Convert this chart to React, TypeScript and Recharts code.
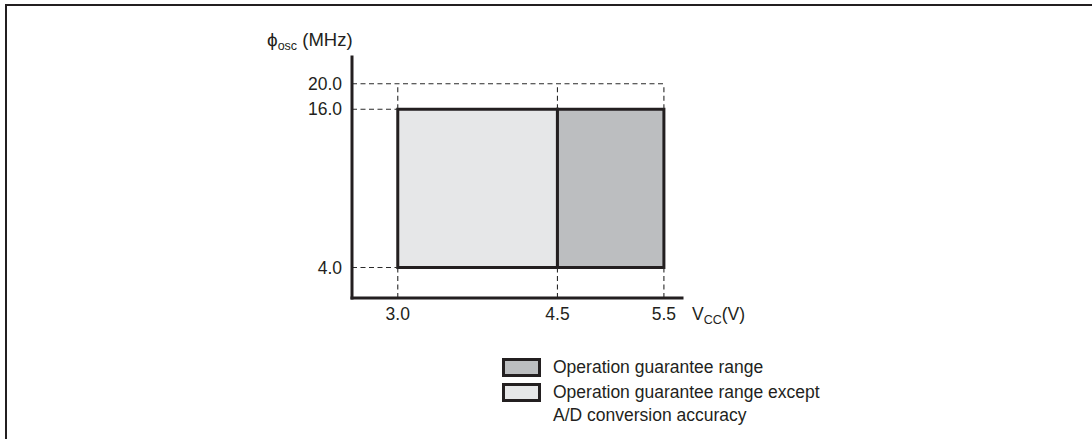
import React from 'react';
import { ComposedChart, XAxis, YAxis, ReferenceArea, ReferenceLine } from 'recharts';

// supply voltage ticks (V) and oscillator frequency ticks (MHz)
const voltageTicks = [3.0, 4.5, 5.5];
const freqTicks = [4.0, 16.0, 20.0];

// operating ranges
const rangeNames = [
  'Operation guarantee range except A/D conversion accuracy',
  'Operation guarantee range',
];
const rangeVolts = [
  [3.0, 4.5],
  [4.5, 5.5],
];
const rangeFreqs = [
  [4.0, 16.0],
  [4.0, 16.0],
];
// legend lists the dark box first
const legendOrder = [1, 0];
const legendLines = [
  ['Operation guarantee range except', 'A/D conversion accuracy'],
  ['Operation guarantee range'],
];

const W = 1092;
const H = 439;
const INK = '#231f20';
const FONT = '"Liberation Sans", Arial, Helvetica, sans-serif';
const fills = ['#e6e7e8', '#bcbec0'];

// schematic axes: x is close to linear, y is closer to log spacing
const X_DOMAIN: [number, number] = [2.57, 5.67];
const Y_DOMAIN: [number, number] = [3.06, 25.3];

const vMin = Math.min(...rangeVolts.map((r) => r[0]));
const vMax = Math.max(...rangeVolts.map((r) => r[1]));
const fLow = Math.min(...rangeFreqs.map((r) => r[0]));
const fHigh = Math.max(...rangeFreqs.map((r) => r[1]));
const fTop = Math.max(...freqTicks);

const dash = { stroke: '#2a2a2a', strokeWidth: 1.1, strokeDasharray: '5 3.5' };

export default function App() {
  const guides: { x: number; y: number }[][] = [];
  freqTicks.forEach((f) => {
    guides.push([
      { x: X_DOMAIN[0], y: f },
      { x: f === fTop ? vMax : vMin, y: f },
    ]);
  });
  voltageTicks.forEach((v) => {
    guides.push([
      { x: v, y: Y_DOMAIN[0] },
      { x: v, y: fLow },
    ]);
    guides.push([
      { x: v, y: fHigh },
      { x: v, y: fTop },
    ]);
  });

  return (
    <div style={{ position: 'absolute', left: 0, top: 0, width: W, height: H, background: '#fff', fontFamily: FONT }}>
      <div style={{ position: 'absolute', left: 0, top: 0 }}>
        <ComposedChart width={W} height={H} margin={{ top: 57, right: 410, bottom: 0, left: 0 }}>
          <XAxis
            type="number"
            dataKey="v"
            domain={X_DOMAIN}
            ticks={voltageTicks}
            interval={0}
            allowDataOverflow
            height={141}
            axisLine={{ stroke: INK, strokeWidth: 3, strokeLinecap: 'square' }}
            tickLine={false}
            tickSize={6}
            tickMargin={4}
            tick={{ fill: INK, fontSize: 17.5, fontFamily: FONT }}
            tickFormatter={(v: number) => v.toFixed(1)}
          />
          <YAxis
            type="number"
            scale="log"
            domain={Y_DOMAIN}
            ticks={freqTicks}
            interval={0}
            allowDataOverflow
            width={352}
            axisLine={{ stroke: INK, strokeWidth: 3, strokeLinecap: 'square' }}
            tickLine={false}
            tickSize={6}
            tickMargin={4}
            tick={{ fill: INK, fontSize: 17.5, fontFamily: FONT }}
            tickFormatter={(v: number) => v.toFixed(1)}
          />
          {guides.map((seg, i) => (
            <ReferenceLine key={'g' + i} segment={seg} {...dash} />
          ))}
          {rangeVolts.map((rv, i) => (
            <ReferenceArea
              key={'r' + i}
              x1={rv[0]}
              x2={rv[1]}
              y1={rangeFreqs[i][0]}
              y2={rangeFreqs[i][1]}
              fill={fills[i]}
              fillOpacity={1}
              stroke={INK}
              strokeWidth={3}
            />
          ))}
        </ComposedChart>
      </div>
      <svg width={W} height={H} style={{ position: 'absolute', left: 0, top: 0, pointerEvents: 'none' }}>
        <line x1={6} y1={5} x2={W} y2={5} stroke={INK} strokeWidth={2} />
        <line x1={6} y1={4} x2={6} y2={H} stroke={INK} strokeWidth={2} />
        <text x={267} y={46} fill={INK} fontSize={19} fontFamily={FONT}>
          {'\u03D5'}
          <tspan fontSize={12.5} dy={4}>osc</tspan>
          <tspan fontSize={18.5} dy={-4}> (MHz)</tspan>
        </text>
        <text x={692} y={320} fill={INK} fontSize={17.5} fontFamily={FONT}>
          V
          <tspan fontSize={12.5} dy={4}>CC</tspan>
          <tspan dy={-4}>(V)</tspan>
        </text>
        {legendOrder.map((idx, row) => {
          const top = 359.5 + row * 25;
          return (
            <g key={'l' + idx}>
              <rect x={503.5} y={top} width={36} height={16} fill={fills[idx]} stroke={INK} strokeWidth={3} />
              {legendLines[idx].map((t, j) => (
                <text key={j} x={553} y={top + 13.5 + j * 23} fill={INK} fontSize={17.5} fontFamily={FONT}>
                  {t}
                </text>
              ))}
            </g>
          );
        })}
      </svg>
    </div>
  );
}
